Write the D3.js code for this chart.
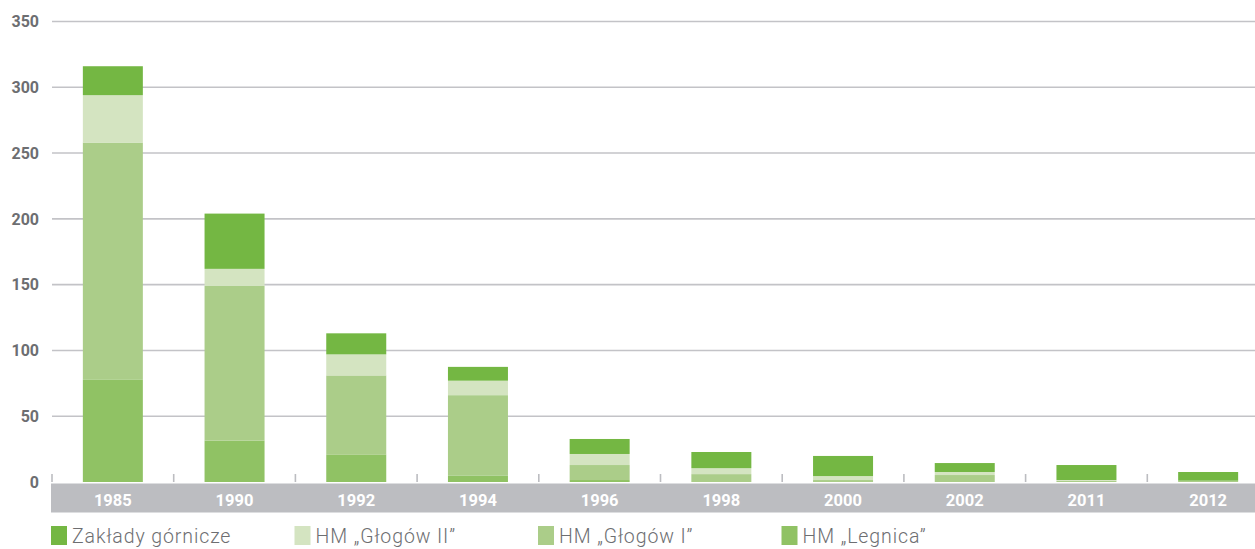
<!DOCTYPE html>
<html>
<head>
<meta charset="utf-8">
<script src="https://cdn.jsdelivr.net/npm/d3@7"></script>
<style>
  html, body { margin: 0; padding: 0; background: #ffffff; }
  svg { display: block; }
</style>
</head>
<body>
<svg id="chart" width="1255" height="549"></svg>
<script>
// Categories (years) and stacked series, bottom to top
const years = ["1985", "1990", "1992", "1994", "1996", "1998", "2000", "2002", "2011", "2012"];
const legnica   = [78, 31.5, 21, 5, 1.5, 0, 0, 0, 0, 0];
const glogowI   = [180, 117.5, 60, 61, 11.4, 6, 1.5, 5.3, 1, 1];
const glogowII  = [36, 13, 16, 11, 8.4, 4.5, 3, 2.3, 0.5, 0];
const zaklady   = [22, 42, 16, 10.5, 11.4, 12.3, 15.3, 6.8, 11.4, 6.6];
const yTicks = [0, 50, 100, 150, 200, 250, 300, 350];

const seriesKeys = ["legnica", "glogowI", "glogowII", "zaklady"];
const seriesNames = {
  zaklady: "Zakłady górnicze",
  glogowII: "HM „Głogów II”",
  glogowI: "HM „Głogów I”",
  legnica: "HM „Legnica”"
};
const legendOrder = ["zaklady", "glogowII", "glogowI", "legnica"];
const colors = {
  zaklady: "#74b743",
  glogowII: "#d4e4c1",
  glogowI: "#abcd89",
  legnica: "#90c264"
};

const rows = years.map((yr, i) => ({
  year: yr,
  legnica: legnica[i],
  glogowI: glogowI[i],
  glogowII: glogowII[i],
  zaklady: zaklady[i]
}));

const svg = d3.select("#chart");
const left = 52, right = 1269;

const x = d3.scaleBand().domain(years).range([left, right])
  .paddingInner(0.507).paddingOuter(0.2535);
const y = d3.scaleLinear().domain([0, 350]).range([482, 21.5]);
const step = x.step();

// Horizontal gridlines
svg.append("g").selectAll("line").data(yTicks.filter(t => t > 0)).join("line")
  .attr("x1", left).attr("x2", 1255)
  .attr("y1", d => y(d)).attr("y2", d => y(d))
  .attr("stroke", "#c3c3c7").attr("stroke-width", 1.6);

// Y tick labels
svg.append("g").selectAll("text").data(yTicks).join("text")
  .attr("x", 39).attr("y", d => y(d))
  .attr("dy", "0.36em")
  .attr("text-anchor", "end")
  .attr("font-family", "Roboto, 'DejaVu Sans', sans-serif")
  .attr("font-weight", 700)
  .attr("font-size", 16)
  .attr("fill", "#6d6e71")
  .text(d => d);

// Stacked bars
const stacked = d3.stack().keys(seriesKeys)(rows);
svg.append("g").selectAll("g").data(stacked).join("g")
  .attr("fill", d => colors[d.key])
  .selectAll("rect").data(d => d).join("rect")
  .attr("x", d => x(d.data.year))
  .attr("width", x.bandwidth())
  .attr("y", d => y(d[1]))
  .attr("height", d => Math.max(0, y(d[0]) - y(d[1])));

// Small separators between categories
svg.append("g").selectAll("line").data(years).join("line")
  .attr("x1", d => x(d) + x.bandwidth() / 2 - step / 2)
  .attr("x2", d => x(d) + x.bandwidth() / 2 - step / 2)
  .attr("y1", y(0) - 8).attr("y2", y(0))
  .attr("stroke", "#bcbdc1").attr("stroke-width", 1.6);

// Category band along the baseline
svg.append("rect")
  .attr("x", left - 1).attr("y", y(0) + 1.5)
  .attr("width", 1255 - left + 1).attr("height", 29)
  .attr("fill", "#bcbdc1");

svg.append("g").selectAll("text").data(years).join("text")
  .attr("x", d => x(d) + x.bandwidth() / 2)
  .attr("y", 506)
  .attr("text-anchor", "middle")
  .attr("font-family", "Roboto, 'DejaVu Sans', sans-serif")
  .attr("font-weight", 700)
  .attr("font-size", 16.5)
  .attr("fill", "#ffffff")
  .text(d => d);

// Legend
const legend = svg.append("g").selectAll("g").data(legendOrder).join("g")
  .attr("transform", (d, i) => `translate(${51 + i * 243.5}, 526)`);
legend.append("rect")
  .attr("width", 16).attr("height", 19)
  .attr("fill", d => colors[d]);
legend.append("text")
  .attr("x", 21).attr("y", 17)
  .attr("font-family", "Roboto, 'DejaVu Sans', sans-serif")
  .attr("font-weight", 300)
  .attr("font-size", 19.5)
  .attr("letter-spacing", 0.9)
  .attr("fill", "#6d6e71")
  .text(d => seriesNames[d]);
</script>
</body>
</html>
